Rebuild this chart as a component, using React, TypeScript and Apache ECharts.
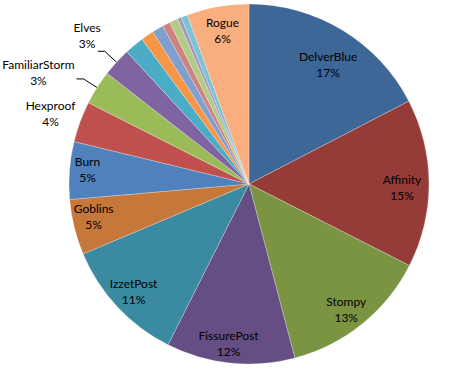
import React, { useEffect, useRef } from "react";
import * as echarts from "echarts";

const names = [
  "DelverBlue", "Affinity", "Stompy", "FissurePost", "IzzetPost", "Goblins",
  "Burn", "Hexproof", "FamiliarStorm", "Elves", "Other 1", "Other 2",
  "Other 3", "Other 4", "Other 5", "Other 6", "Other 7", "Rogue",
];
const values = [
  17.5, 15.2, 13.5, 11.6, 11.3, 5.0,
  5.2, 3.7, 3.1, 2.6, 1.75, 1.17,
  1.03, 0.69, 0.78, 0.33, 0.6, 5.6,
];
const colors = [
  "#3D6797", "#953C39", "#7A9442", "#654E83", "#3A8BA1", "#C6773A",
  "#4F81BD", "#C0504D", "#9BBB59", "#8064A2", "#4BACC6", "#F79646",
  "#7F9FCF", "#CF8381", "#B3CB88", "#A395BD", "#7DC3D6", "#F9AE7F",
];
// label placement kind per slice: "in" inside, "out" outside, "" none
const labelKinds = [
  "in", "in", "in", "in", "in", "in",
  "in", "out", "out", "out", "", "",
  "", "", "", "", "", "in",
];

const FONT = "Lato";

export default function App() {
  const ref = useRef<HTMLDivElement>(null);
  useEffect(() => {
    document.body.style.margin = "0";
    if (!ref.current) return;
    const chart = echarts.init(ref.current, undefined, { renderer: "svg" });
    const total = values.reduce((a, b) => a + b, 0);
    const pct = (v: number) => Math.round((v / total) * 100) + "%";

    const mainData = names.map((n, i) => ({
      name: n,
      value: values[i],
      itemStyle: { color: colors[i] },
    }));

    const labelData = names.map((n, i) => {
      const kind = labelKinds[i];
      const base: any = { name: n, value: values[i] };
      if (kind === "in") {
        base.label = { show: true, position: "inside" };
        base.labelLine = { show: false };
      } else if (kind === "out") {
        const hasLine = n !== "Hexproof";
        base.label = { show: true, position: "outside", distanceToLabelLine: 2 };
        base.labelLine = {
          show: hasLine,
          length: hasLine ? 16 : 4,
          length2: hasLine ? 7 : 2,
          lineStyle: { color: "#000", width: 1 },
        };
      } else {
        base.label = { show: false };
        base.labelLine = { show: false };
      }
      return base;
    });

    // small nudges for label text placement (dx, dy)
    const nudges: Record<string, [number, number]> = {
      DelverBlue: [-3, 16],
      Affinity: [-5, 4],
      Stompy: [-2, 3],
      FissurePost: [-4, 2],
      Goblins: [-2, -5],
      Burn: [-4, -3],
      Hexproof: [3, -7],
      FamiliarStorm: [0, -6],
      Elves: [5, -16],
      Rogue: [1, 2],
    };

    chart.setOption({
      animation: false,
      series: [
        {
          type: "pie",
          center: [249, 184],
          radius: 180,
          startAngle: 90,
          clockwise: true,
          silent: true,
          label: { show: false },
          labelLine: { show: false },
          itemStyle: { borderColor: "rgba(255,255,255,0.5)", borderWidth: 0.5 },
          data: mainData,
        },
        {
          type: "pie",
          center: [249, 184],
          radius: [130, 180],
          startAngle: 90,
          clockwise: true,
          silent: true,
          avoidLabelOverlap: false,
          minShowLabelAngle: 0,
          itemStyle: { color: "transparent" },
          labelLayout: (p: any) => {
            const o: any = { hideOverlap: false };
            const nd = nudges[names[p.dataIndex]];
            if (nd) {
              o.dx = nd[0];
              o.dy = nd[1];
            }
            return o;
          },
          label: {
            formatter: (p: any) => `{n|${p.name}}\n{n|${pct(p.value)}}`,
            rich: {
              n: {
                fontFamily: FONT,
                fontSize: 12,
                color: "#000",
                align: "center",
                lineHeight: 16,
              },
            },
          },
          data: labelData,
        },
      ],
    });
    return () => chart.dispose();
  }, []);
  return <div ref={ref} style={{ width: 475, height: 372 }} />;
}
